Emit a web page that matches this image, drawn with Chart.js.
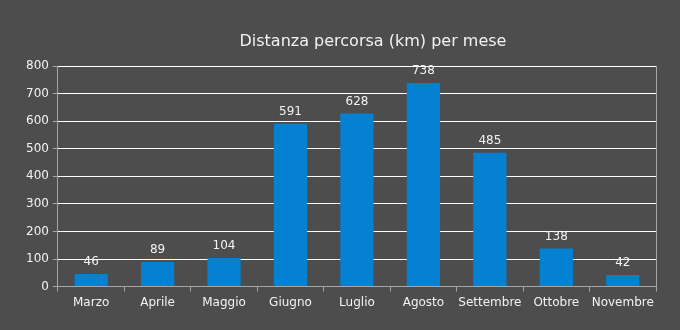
<!DOCTYPE html>
<html>
<head>
<meta charset="utf-8">
<script src="https://cdn.jsdelivr.net/npm/chart.js@4/dist/chart.umd.min.js"></script>
<style>
  html, body { margin: 0; padding: 0; background: #4d4d4d; }
  #wrap { width: 680px; height: 330px; }
</style>
</head>
<body>
<div id="wrap"><canvas id="barChart" width="680" height="330"></canvas></div>
<script>
var months = ['Marzo', 'Aprile', 'Maggio', 'Giugno', 'Luglio', 'Agosto', 'Settembre', 'Ottobre', 'Novembre'];
var distance = [46, 89, 104, 591, 628, 738, 485, 138, 42];
var chartTitle = 'Distanza percorsa (km) per mese';

var textColor = '#f2f2f2';
var axisColor = '#a6a6a6';

// title + value labels above the bars
var labelsPlugin = {
    id: 'labels',
    afterDatasetsDraw: function (chart) {
        var ctx = chart.ctx;
        var area = chart.chartArea;
        ctx.save();
        ctx.fillStyle = textColor;
        ctx.font = '16px "DejaVu Sans"';
        ctx.textAlign = 'center';
        ctx.textBaseline = 'middle';
        ctx.fillText(chartTitle, (area.left + area.right) / 2 + 16, 42);

        ctx.font = '12px "DejaVu Sans"';
        ctx.textBaseline = 'bottom';
        var meta = chart.getDatasetMeta(0);
        meta.data.forEach(function (bar, i) {
            ctx.fillText(distance[i], bar.x, bar.y - 6);
        });
        ctx.restore();
    }
};

var barChartCanvas = document.getElementById('barChart').getContext('2d');

new Chart(barChartCanvas, {
    type: 'bar',
    data: {
        labels: months,
        datasets: [{
            data: distance,
            backgroundColor: '#0481d1',
            categoryPercentage: 1,
            barPercentage: 0.5
        }]
    },
    options: {
        responsive: false,
        animation: false,
        layout: { padding: { top: 66, right: 16, bottom: 16, left: 22 } },
        plugins: {
            legend: { display: false },
            title: { display: false },
            tooltip: { enabled: false }
        },
        scales: {
            x: {
                grid: { drawOnChartArea: false, color: axisColor, tickLength: 5 },
                border: { color: axisColor },
                ticks: { color: textColor, font: { family: 'DejaVu Sans', size: 12 }, padding: 4, maxRotation: 0, autoSkip: false }
            },
            y: {
                min: 0,
                max: 800,
                grid: { color: '#ffffff', tickLength: 5, tickColor: axisColor },
                border: { color: axisColor },
                ticks: { stepSize: 100, color: textColor, font: { family: 'DejaVu Sans', size: 12 }, padding: 4 }
            },
            y2: {
                position: 'right',
                min: 0,
                max: 800,
                grid: { display: false },
                border: { color: axisColor },
                ticks: { display: false }
            }
        }
    },
    plugins: [labelsPlugin]
});
</script>
</body>
</html>
